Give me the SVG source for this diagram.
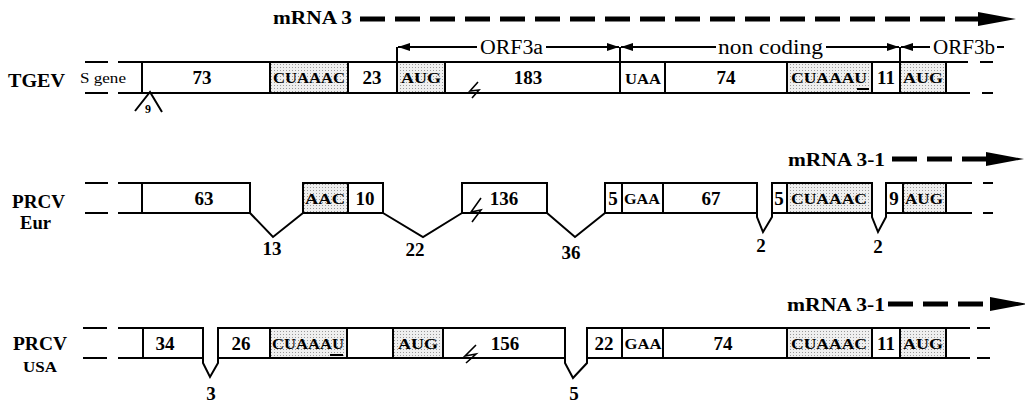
<svg xmlns="http://www.w3.org/2000/svg" width="1025" height="402" viewBox="0 0 1025 402">
<style>
.bx{fill:#fff;stroke:#000;stroke-width:2}
.sh{fill:url(#dots);stroke:#000;stroke-width:2}
.ln{fill:none;stroke:#000;stroke-width:2}
.bolt{fill:none;stroke:#000;stroke-width:1.6}
.dsh{fill:none;stroke:#000;stroke-width:5;stroke-dasharray:25 10}
text{font-family:"Liberation Serif",serif}
.num{font-weight:bold;font-size:19px;text-anchor:middle}
.sm{font-weight:bold;font-size:12px;text-anchor:middle}
.cod{font-weight:bold;font-size:15px;text-anchor:middle}
.lab{font-weight:bold;font-size:19px}
.usa{font-weight:bold;font-size:14px}
.sg{font-size:15px}
.orf{font-size:20px}
.mr{font-weight:bold;font-size:18px}
</style>
<defs>
<pattern id="dots" width="3" height="3" patternUnits="userSpaceOnUse">
<rect width="3" height="3" fill="#efefef"/>
<rect x="1" y="1" width="1" height="1" fill="#9a9a9a"/>
</pattern>
<marker id="ah" markerWidth="12" markerHeight="8" refX="12" refY="4" orient="auto" markerUnits="userSpaceOnUse">
<path d="M0,0 L12,4 L0,8 Z" fill="#000"/>
</marker>
<marker id="big" markerWidth="38" markerHeight="16" refX="2" refY="8" orient="auto" markerUnits="userSpaceOnUse">
<path d="M0,1 L38,8 L0,15 Z" fill="#000"/>
</marker>
</defs>
<rect width="1025" height="402" fill="#fff"/>

<!-- Row labels -->
<g id="label-tgev"><text class="lab" x="8" y="87" textLength="57" lengthAdjust="spacingAndGlyphs">TGEV</text><text class="sg" x="80" y="83" textLength="46" lengthAdjust="spacingAndGlyphs">S gene</text></g>
<g id="label-eur"><text class="lab" x="12" y="208" textLength="53" lengthAdjust="spacingAndGlyphs">PRCV</text><text class="lab" x="20" y="229" textLength="31" lengthAdjust="spacingAndGlyphs">Eur</text></g>
<g id="label-usa"><text class="lab" x="13" y="350" textLength="54" lengthAdjust="spacingAndGlyphs">PRCV</text><text class="usa" x="23" y="372" textLength="34" lengthAdjust="spacingAndGlyphs">USA</text></g>

<!-- mRNA labels -->
<g id="mrna3"><text class="mr" x="273" y="24" textLength="79" lengthAdjust="spacingAndGlyphs">mRNA 3</text></g>
<g id="mrna31-eur"><text class="mr" x="788" y="166" textLength="97" lengthAdjust="spacingAndGlyphs">mRNA 3-1</text></g>
<g id="mrna31-usa"><text class="mr" x="787" y="311" textLength="98" lengthAdjust="spacingAndGlyphs">mRNA 3-1</text></g>

<!-- ORF labels -->
<g id="orf3a"><text class="orf" x="480" y="54" textLength="63" lengthAdjust="spacingAndGlyphs">ORF3a</text></g>
<g id="noncoding"><text class="orf" x="718" y="54" textLength="105" lengthAdjust="spacingAndGlyphs">non coding</text></g>
<g id="orf3b"><text class="orf" x="933" y="54" textLength="62" lengthAdjust="spacingAndGlyphs">ORF3b</text></g>

<!-- TGEV row -->
<g id="tgev-73"><rect class="bx" x="142" y="62" width="128" height="31"/><text class="num" x="202" y="84">73</text></g>
<g id="tgev-cuaaac"><rect class="sh" x="270" y="62" width="78" height="31"/><text class="cod" x="309" y="83" textLength="72" lengthAdjust="spacingAndGlyphs">CUAAAC</text></g>
<g id="tgev-23"><rect class="bx" x="348" y="62" width="49" height="31"/><text class="num" x="372" y="84">23</text></g>
<g id="tgev-aug1"><rect class="sh" x="397" y="62" width="48" height="31"/><text class="cod" x="421" y="83" textLength="40" lengthAdjust="spacingAndGlyphs">AUG</text></g>
<g id="tgev-183"><rect class="bx" x="445" y="62" width="175" height="31"/><text class="num" x="528" y="84">183</text></g>
<g id="tgev-uaa"><rect class="bx" x="620" y="62" width="45" height="31"/><text class="cod" x="643" y="84" textLength="36" lengthAdjust="spacingAndGlyphs">UAA</text></g>
<g id="tgev-74"><rect class="bx" x="665" y="62" width="122" height="31"/><text class="num" x="726" y="84">74</text></g>
<g id="tgev-cuaaau"><rect class="sh" x="787" y="62" width="85" height="31"/><text class="cod" x="829" y="83" textLength="76" lengthAdjust="spacingAndGlyphs">CUAAAU</text></g>
<g id="tgev-11"><rect class="bx" x="872" y="62" width="28" height="31"/><text class="num" x="886" y="84">11</text></g>
<g id="tgev-aug2"><rect class="sh" x="900" y="62" width="46" height="31"/><text class="cod" x="923" y="83" textLength="40" lengthAdjust="spacingAndGlyphs">AUG</text></g>
<g id="tgev-9"><text class="sm" x="148" y="113">9</text></g>

<!-- PRCV Eur row -->
<g id="eur-63"><rect class="bx" x="142" y="183" width="108" height="30"/><text class="num" x="204" y="205">63</text></g>
<g id="eur-aac"><rect class="sh" x="303" y="183" width="45" height="30"/><text class="cod" x="325" y="204" textLength="40" lengthAdjust="spacingAndGlyphs">AAC</text></g>
<g id="eur-10"><rect class="bx" x="348" y="183" width="35" height="30"/><text class="num" x="365" y="205">10</text></g>
<g id="eur-136"><rect class="bx" x="462" y="183" width="85" height="30"/><text class="num" x="504" y="205">136</text></g>
<g id="eur-5a"><rect class="bx" x="605" y="183" width="17" height="30"/><text class="num" x="613" y="205">5</text></g>
<g id="eur-gaa"><rect class="bx" x="622" y="183" width="41" height="30"/><text class="cod" x="642" y="204" textLength="36" lengthAdjust="spacingAndGlyphs">GAA</text></g>
<g id="eur-67"><rect class="bx" x="663" y="183" width="94" height="30"/><text class="num" x="711" y="205">67</text></g>
<g id="eur-5b"><rect class="bx" x="772" y="183" width="15" height="30"/><text class="num" x="779" y="205">5</text></g>
<g id="eur-cuaaac"><rect class="sh" x="787" y="183" width="85" height="30"/><text class="cod" x="829" y="204" textLength="76" lengthAdjust="spacingAndGlyphs">CUAAAC</text></g>
<g id="eur-9"><rect class="bx" x="886" y="183" width="17" height="30"/><text class="num" x="894" y="205">9</text></g>
<g id="eur-aug"><rect class="sh" x="903" y="183" width="43" height="30"/><text class="cod" x="924" y="204" textLength="38" lengthAdjust="spacingAndGlyphs">AUG</text></g>
<g id="eur-13"><text class="num" x="272" y="255">13</text></g>
<g id="eur-22"><text class="num" x="415" y="256">22</text></g>
<g id="eur-36"><text class="num" x="571" y="259">36</text></g>
<g id="eur-2a"><text class="num" x="761" y="252">2</text></g>
<g id="eur-2b"><text class="num" x="878" y="253">2</text></g>

<!-- PRCV USA row -->
<g id="usa-34"><rect class="bx" x="143" y="328" width="60" height="30"/><text class="num" x="165" y="350">34</text></g>
<g id="usa-26"><rect class="bx" x="218" y="328" width="52" height="30"/><text class="num" x="241" y="350">26</text></g>
<g id="usa-cuaaau"><rect class="sh" x="270" y="328" width="77" height="30"/><text class="cod" x="308" y="349" textLength="72" lengthAdjust="spacingAndGlyphs">CUAAAU</text></g>
<g id="usa-empty"><rect class="bx" x="347" y="328" width="46" height="30"/></g>
<g id="usa-aug1"><rect class="sh" x="393" y="328" width="50" height="30"/><text class="cod" x="418" y="349" textLength="40" lengthAdjust="spacingAndGlyphs">AUG</text></g>
<g id="usa-156"><rect class="bx" x="443" y="328" width="122" height="30"/><text class="num" x="505" y="350">156</text></g>
<g id="usa-22"><rect class="bx" x="587" y="328" width="35" height="30"/><text class="num" x="604" y="350">22</text></g>
<g id="usa-gaa"><rect class="bx" x="622" y="328" width="41" height="30"/><text class="cod" x="643" y="349" textLength="37" lengthAdjust="spacingAndGlyphs">GAA</text></g>
<g id="usa-74"><rect class="bx" x="663" y="328" width="124" height="30"/><text class="num" x="723" y="350">74</text></g>
<g id="usa-cuaaac"><rect class="sh" x="787" y="328" width="85" height="30"/><text class="cod" x="829" y="349" textLength="76" lengthAdjust="spacingAndGlyphs">CUAAAC</text></g>
<g id="usa-11"><rect class="bx" x="872" y="328" width="28" height="30"/><text class="num" x="886" y="350">11</text></g>
<g id="usa-aug2"><rect class="sh" x="900" y="328" width="46" height="30"/><text class="cod" x="923" y="349" textLength="40" lengthAdjust="spacingAndGlyphs">AUG</text></g>
<g id="usa-3"><text class="num" x="211" y="400">3</text></g>
<g id="usa-5"><text class="num" x="574" y="400">5</text></g>

<!-- Connectors and line work -->
<g id="connectors">
<path class="dsh" d="M360,19 H980" marker-end="url(#big)"/>
<path class="dsh" d="M892,159 H988" marker-end="url(#big)"/>
<path class="dsh" d="M888,304 H992" marker-end="url(#big)"/>
<path class="ln" d="M397,62 V47 M620,47 V62 M900,47 V62"/>
<path class="ln" d="M477,47 H398" marker-end="url(#ah)"/>
<path class="ln" d="M546,47 H619" marker-end="url(#ah)"/>
<path class="ln" d="M716,47 H621" marker-end="url(#ah)"/>
<path class="ln" d="M826,47 H899" marker-end="url(#ah)"/>
<path class="ln" d="M930,47 H901" marker-end="url(#ah)"/>
<path class="ln" d="M997,47 H1004"/>
<path class="ln" d="M85,62 H108 M118,62 H142 M85,93 H108 M118,93 H142"/>
<path class="ln" d="M85,183 H108 M118,183 H142 M85,213 H108 M118,213 H142"/>
<path class="ln" d="M83,328 H107 M118,328 H143 M83,358 H107 M118,358 H143"/>
<path class="ln" d="M946,62 H968 M980,62 H993 M946,93 H970 M982,93 H993"/>
<path class="ln" d="M946,183 H972 M983,183 H993 M946,213 H972 M983,213 H993"/>
<path class="ln" d="M946,328 H970 M977,328 H990 M946,358 H970 M977,358 H990"/>
<path class="ln" d="M135,111 L150,92 L162,112"/>
<path class="ln" d="M250,213 L273,237 L303,213"/>
<path class="ln" d="M383,213 L423,237 L462,213"/>
<path class="ln" d="M547,213 L575,237 L605,213"/>
<path class="ln" d="M757,213 V217 L763,232 L772,217 V213"/>
<path class="ln" d="M872,213 V217 L878,232 L886,217 V213"/>
<path class="ln" d="M203,358 V363 L210,377 L218,363 V358"/>
<path class="ln" d="M565,358 V363 L573,378 L587,363 V358"/>
<path class="bolt" d="M478,82 L470,91 L479,90 L472,98"/>
<path class="bolt" d="M481,198 L471,212 L481,210 L472,222"/>
<path class="bolt" d="M476,345 L465,356 L476,354 L466,363"/>
<path class="ln" d="M857,89 H869"/>
<path class="ln" d="M330,355 H343"/>
</g>
</svg>
